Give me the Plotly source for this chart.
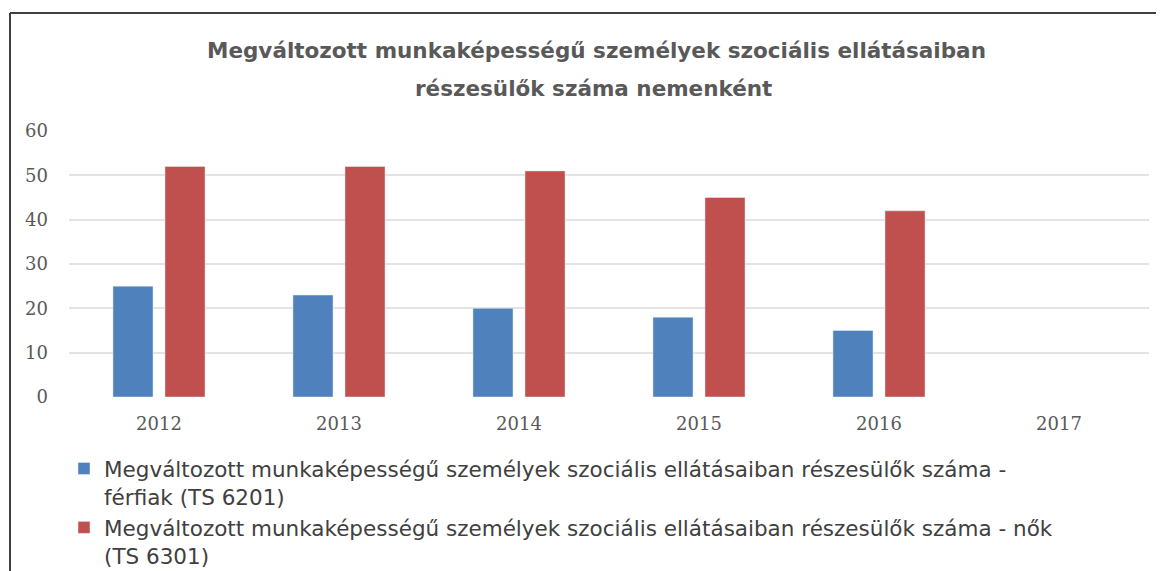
import plotly.graph_objects as go

years = ["2012", "2013", "2014", "2015", "2016", "2017"]
ferfiak = [25, 23, 20, 18, 15, None]
nok = [52, 52, 51, 45, 42, None]

name_ferfiak = "Megváltozott munkaképességű személyek szociális ellátásaiban részesülők száma -<br>férfiak (TS 6201)"
name_nok = "Megváltozott munkaképességű személyek szociális ellátásaiban részesülők száma - nők<br>(TS 6301)"
title_line1 = "Megváltozott munkaképességű személyek szociális ellátásaiban"
title_line2 = "részesülők száma nemenként"

# page body has an 8px margin; work in reference pixel coords and shift
OFF = 8
W, H = 1164 - OFF, 571 - OFF
plot_l, plot_r, plot_t, plot_b = 69 - OFF, 1149 - OFF, 131 - OFF, 397 - OFF
ml, mr, mt, mb = plot_l, W - plot_r, plot_t, H - plot_b
pw, ph = plot_r - plot_l, plot_b - plot_t


def px_x(px):
    return (px - OFF - ml) / pw


def px_y(py):
    return (plot_b - (py - OFF)) / ph


fig = go.Figure()
fig.add_trace(go.Bar(x=years, y=ferfiak, name=name_ferfiak, marker_color="#4F81BD"))
fig.add_trace(go.Bar(x=years, y=nok, name=name_nok, marker_color="#C0504D"))

title_font = dict(family="DejaVu Sans", size=21.5, color="#595959", weight="bold")

fig.update_layout(
    width=W, height=H,
    margin=dict(l=ml, r=mr, t=mt, b=mb, autoexpand=False),
    paper_bgcolor="white", plot_bgcolor="white",
    barmode="group", bargap=0.422, bargroupgap=0.23,
    xaxis=dict(showgrid=False, showline=False, ticks="", ticklabelstandoff=14,
               tickfont=dict(family="DejaVu Serif", size=18, color="#595959")),
    yaxis=dict(range=[0, 60], dtick=10, showgrid=True, gridcolor="#E3E3E3", gridwidth=1.5,
               zeroline=False, showline=False, ticks="", ticklabelstandoff=20,
               tickfont=dict(family="DejaVu Serif", size=18, color="#595959")),
    legend=dict(x=px_x(64), y=px_y(448), xanchor="left", yanchor="top",
                orientation="v", valign="top", tracegroupgap=0,
                font=dict(family="DejaVu Sans", size=21.5, color="#404040"),
                bgcolor="rgba(0,0,0,0)"),
    showlegend=True,
    annotations=[
        dict(text=title_line1, xref="paper", yref="paper", x=px_x(596), y=px_y(50),
             xanchor="center", yanchor="middle", showarrow=False, font=title_font),
        dict(text=title_line2, xref="paper", yref="paper", x=px_x(593), y=px_y(88),
             xanchor="center", yanchor="middle", showarrow=False, font=title_font),
    ],
    shapes=[
        dict(type="line", xref="paper", yref="paper",
             x0=px_x(10), x1=px_x(1170), y0=px_y(13), y1=px_y(13),
             line=dict(color="#404040", width=2)),
        dict(type="line", xref="paper", yref="paper",
             x0=px_x(10), x1=px_x(10), y0=px_y(13), y1=px_y(580),
             line=dict(color="#404040", width=2)),
    ],
)

fig.write_html("out.html")
